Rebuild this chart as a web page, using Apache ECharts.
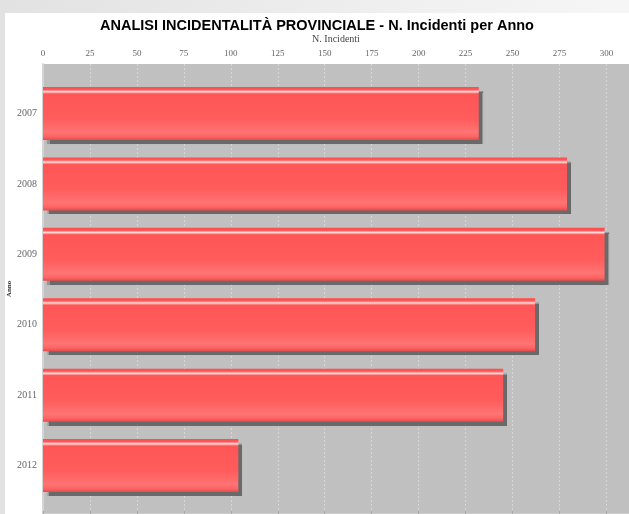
<!DOCTYPE html>
<html>
<head>
<meta charset="utf-8">
<script src="https://cdn.jsdelivr.net/npm/echarts@6/dist/echarts.min.js"></script>
<style>
  html, body { margin: 0; padding: 0; width: 629px; height: 514px; overflow: hidden;
    background: linear-gradient(90deg, #e2e2e2 0%, #efefef 60%, #f6f6f6 100%); }
  #chart { position: absolute; left: 5px; top: 13px; width: 624px; height: 501px; background: #fff; }
</style>
</head>
<body>
<div id="chart"></div>
<script>
// anni e numero incidenti
const anni = ['2007', '2008', '2009', '2010', '2011', '2012'];
const incidenti = [232, 279, 299, 262, 245, 104];
const xMax = 312;
const xStep = 25;

const chart = echarts.init(document.getElementById('chart'));

// gradiente della barra (stile JFreeChart)
const barColor = new echarts.graphic.LinearGradient(0, 0, 0, 1, [
  { offset: 0, color: '#ff4a4a' },
  { offset: 0.05, color: '#ff5858' },
  { offset: 0.09, color: '#ffdcdc' },
  { offset: 0.13, color: '#ff5656' },
  { offset: 0.6, color: '#ff5c5c' },
  { offset: 0.86, color: '#ff7474' },
  { offset: 0.94, color: '#ff6262' },
  { offset: 1, color: '#e44c4c' }
]);

const smallFont = 'Liberation Serif';

const option = {
  animation: false,
  title: {
    text: 'ANALISI INCIDENTALITÀ PROVINCIALE - N. Incidenti per Anno',
    left: 'center',
    top: 0,
    textStyle: { fontFamily: 'Liberation Sans', fontWeight: 'bold', fontSize: 14.5, color: '#000' }
  },
  grid: [
    // sfondo grigio del plot
    { left: 38, right: 0, top: 51, bottom: 0, show: true, backgroundColor: '#c0c0c0', borderWidth: 0,
      outerBoundsMode: 'none' },
    // area delle barre
    { left: 38, right: 0, top: 65.25, bottom: 13.25, outerBoundsMode: 'none' }
  ],
  xAxis: [
    {
      gridIndex: 0,
      type: 'value',
      position: 'top',
      min: 0,
      max: xMax,
      interval: xStep,
      name: 'N. Incidenti',
      nameLocation: 'middle',
      nameGap: 15,
      nameTextStyle: { fontFamily: smallFont, fontSize: 10, color: '#444' },
      axisLine: { show: true, lineStyle: { color: '#cfcfcf', width: 2 } },
      axisTick: { show: true, length: 3, lineStyle: { color: '#aaa' } },
      axisLabel: { fontFamily: smallFont, fontSize: 9, color: '#666', margin: 6, showMaxLabel: false },
      splitLine: { show: true, lineStyle: { color: '#d6d6d6', type: [2, 2], width: 1 } }
    },
    {
      gridIndex: 1,
      type: 'value',
      min: 0,
      max: xMax,
      show: false
    }
  ],
  yAxis: [
    {
      gridIndex: 0,
      type: 'value',
      min: 0,
      max: 1,
      name: 'Anno',
      nameLocation: 'middle',
      nameGap: 30,
      nameTextStyle: { fontFamily: smallFont, fontSize: 7, fontWeight: 'bold', color: '#333' },
      axisLine: { show: true, onZero: false, lineStyle: { color: '#d4d4d4', width: 2 } },
      axisTick: { show: false },
      axisLabel: { show: false },
      splitLine: { show: false }
    },
    {
      gridIndex: 1,
      type: 'category',
      data: anni,
      inverse: true,
      axisLine: { show: false },
      axisTick: { show: false },
      axisLabel: { fontFamily: smallFont, fontSize: 10, color: '#666', margin: 6 }
    }
  ],
  series: [{
    type: 'bar',
    xAxisIndex: 1,
    yAxisIndex: 1,
    data: incidenti,
    barWidth: 53,
    itemStyle: {
      color: barColor,
      shadowColor: 'rgba(90,90,90,0.85)',
      shadowOffsetX: 4,
      shadowOffsetY: 4,
      shadowBlur: 1
    }
  }]
};

chart.setOption(option);
</script>
</body>
</html>
